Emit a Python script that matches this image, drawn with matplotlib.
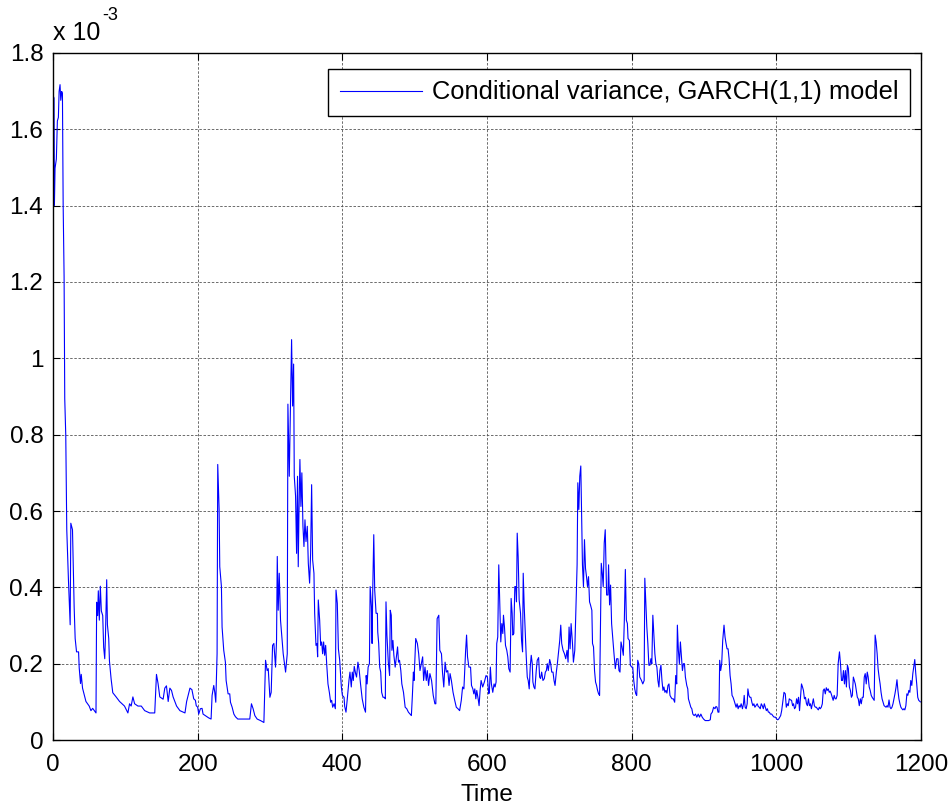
import numpy as np
import matplotlib
matplotlib.use("Agg")
import matplotlib.pyplot as plt

plt.rcParams['font.family'] = ['Liberation Sans', 'DejaVu Sans']
plt.rcParams['mathtext.default'] = 'regular'

# conditional variance (units of 1e-3), split by time span
t_a = [0, 1.4, 1.9, 2.8, 4.6, 6, 7.4, 8.4, 9.7, 10.7, 12, 13, 14, 15.3, 16.2, 17.6, 19, 21.3, 23.7,
       24.6, 26.9, 29.2, 30.6, 32.5, 35.3, 36.2, 38, 39, 40.8, 45.5, 50, 52.4, 54.8, 59.4, 60.3,
       61.7, 62.6, 64, 65.4, 66.8, 68.7, 70, 71.5, 72.4, 74.2, 75.2, 77, 78, 80.3, 82.6, 87.2, 92,
       98.8, 103.5, 105.8, 108, 110.4, 112.8, 117.4, 122, 126.7, 133.6, 140.6, 143, 145.2, 147.6,
       152.2, 154.5, 156.8, 159.2, 161.5, 163.8, 166, 170.8, 175.4, 182.4, 184.7, 189.3]
v_a = [1.688, 1.682, 1.401, 1.498, 1.522, 1.622, 1.631, 1.699, 1.717, 1.676, 1.699, 1.694, 1.403,
       1.214, 0.894, 0.799, 0.551, 0.420, 0.302, 0.568, 0.551, 0.349, 0.266, 0.231, 0.231, 0.189,
       0.148, 0.172, 0.136, 0.101, 0.089, 0.077, 0.083, 0.071, 0.361, 0.326, 0.391, 0.314, 0.403,
       0.338, 0.326, 0.243, 0.213, 0.266, 0.420, 0.302, 0.266, 0.207, 0.160, 0.124, 0.113, 0.101,
       0.089, 0.071, 0.095, 0.089, 0.113, 0.095, 0.089, 0.089, 0.077, 0.071, 0.071, 0.172, 0.148,
       0.113, 0.107, 0.136, 0.142, 0.101, 0.136, 0.130, 0.113, 0.089, 0.077, 0.071, 0.101, 0.136]

t_b = [192, 194.5, 196.8, 198, 200, 201.4, 203.7, 206, 207.4, 210.6, 215.2, 218.5, 219.9, 222.2,
       223.6, 225, 226.8, 227.7, 229.6, 230.5, 232.8, 233.7, 236, 238.3, 239.3, 240.6, 242, 244.3,
       245.3, 247.6, 250, 252.2, 255.4, 259, 266, 272, 274.3, 276.6, 279, 282.2, 286.8, 291.5,
       293.8, 296, 297.5, 299.8, 301.6, 303.5, 305.3, 307.6, 309, 310, 311.3, 312.7, 314.5, 316.4,
       318.2, 320, 321.5, 323.8, 324.7, 326.6, 328.4, 329.8, 331.2, 332.6, 333.5, 335.3, 336.7,
       338, 339, 340, 341.3, 342.7, 344, 345.5, 346.9, 348.3, 349.7, 351.5, 352.9, 354.7, 356.1,
       357.5, 358.9, 360.7, 361.7, 363.5, 364.9, 365.8, 366.7, 368.6, 370, 371.4, 372.7, 374.1,
       375.5, 376.9, 378.3, 380.1, 382, 383.8, 385.2, 386.6, 388.5, 390.3, 391.2, 393, 394.5,
       396.3, 398.6]
v_b = [0.132, 0.108, 0.104, 0.090, 0.086, 0.068, 0.082, 0.083, 0.068, 0.064, 0.058, 0.055, 0.117,
       0.143, 0.125, 0.099, 0.226, 0.722, 0.604, 0.454, 0.402, 0.296, 0.235, 0.204, 0.156, 0.139,
       0.121, 0.121, 0.099, 0.086, 0.068, 0.061, 0.055, 0.055, 0.055, 0.055, 0.095, 0.082, 0.064,
       0.055, 0.051, 0.046, 0.209, 0.182, 0.187, 0.112, 0.125, 0.248, 0.253, 0.191, 0.261, 0.481,
       0.340, 0.437, 0.314, 0.270, 0.226, 0.200, 0.178, 0.226, 0.880, 0.691, 0.902, 1.049, 0.875,
       0.985, 0.691, 0.639, 0.489, 0.691, 0.454, 0.595, 0.735, 0.612, 0.700, 0.560, 0.507, 0.577,
       0.520, 0.560, 0.463, 0.411, 0.489, 0.669, 0.472, 0.437, 0.332, 0.248, 0.253, 0.218, 0.367,
       0.314, 0.248, 0.257, 0.226, 0.257, 0.222, 0.248, 0.200, 0.147, 0.125, 0.099, 0.104, 0.086,
       0.095, 0.082, 0.393, 0.358, 0.239, 0.209, 0.139]

t_c = [400, 402.3, 403.2, 405, 406.8, 409.1, 410.5, 412.3, 413.7, 415.1, 416.4, 418.3, 419.6,
       421.5, 423.3, 425.1, 427.4, 429.7, 432, 432.9, 434.2, 435.6, 437.4, 438.4, 440.2, 441.1,
       442, 443.4, 444.7, 446.6, 448.4, 448.9, 450.2, 451.6, 453, 454.3, 456.2, 458, 459.4, 460.3,
       461.6, 463.5, 465.3, 466.2, 467.6, 468.5, 469.9, 471.2, 473, 474.4, 476.3, 477.6, 479,
       480.8, 482.2, 484.5, 486.8, 489, 491.3, 493.6, 495.4, 496.8, 498.2, 499.1, 501.4, 503.7,
       505.5, 507.3, 509.6, 511, 512.3, 514.2, 516, 517.4, 519.2, 521, 523.3, 525.6, 527.9, 529.2,
       531, 533.3, 534.7, 537, 538.4, 540.2, 542, 543.8, 545.7, 547.5, 548.9, 550.7, 553, 555.3,
       557.5, 559.8, 562.1, 564.4, 566.2, 568, 570.3, 571.7, 573, 574.9, 577.2, 578.5, 580.4,
       581.7, 583.1, 584.5, 585.8, 587.7, 589, 590.4, 591.8, 594, 596.3, 598.6, 600.5, 602.3]
v_c = [0.117, 0.112, 0.088, 0.073, 0.108, 0.156, 0.178, 0.139, 0.178, 0.156, 0.193, 0.174, 0.165,
       0.204, 0.182, 0.147, 0.108, 0.086, 0.073, 0.169, 0.147, 0.191, 0.200, 0.402, 0.349, 0.253,
       0.393, 0.538, 0.393, 0.332, 0.332, 0.283, 0.253, 0.191, 0.178, 0.125, 0.112, 0.112, 0.108,
       0.362, 0.275, 0.204, 0.169, 0.340, 0.327, 0.235, 0.261, 0.222, 0.191, 0.213, 0.244, 0.204,
       0.209, 0.182, 0.147, 0.125, 0.086, 0.082, 0.073, 0.068, 0.064, 0.117, 0.178, 0.156, 0.266,
       0.253, 0.226, 0.182, 0.204, 0.218, 0.156, 0.191, 0.156, 0.182, 0.143, 0.174, 0.156, 0.117,
       0.095, 0.095, 0.318, 0.327, 0.235, 0.226, 0.178, 0.139, 0.204, 0.178, 0.182, 0.143, 0.174,
       0.156, 0.125, 0.104, 0.086, 0.082, 0.077, 0.104, 0.139, 0.134, 0.231, 0.275, 0.218, 0.191,
       0.191, 0.143, 0.134, 0.121, 0.134, 0.108, 0.130, 0.108, 0.090, 0.130, 0.156, 0.139, 0.152,
       0.169, 0.165, 0.121]

t_d = [603.2, 604.6, 606, 607.9, 609.7, 611.1, 612.5, 613.4, 614.8, 616.2, 617.6, 619, 620.4,
       621.8, 622.7, 624.1, 625.5, 627.3, 628.7, 630.1, 631.9, 633.3, 634.7, 635.6, 637, 638.4,
       639.8, 640.7, 641.7, 643, 644.4, 646.3, 647.7, 649.1, 650, 651.4, 652.8, 654.2, 655.6,
       656.9, 658.3, 659.7, 661.1, 662.5, 663.4, 664.8, 666.2, 668, 669.4, 671.3, 672.7, 674,
       675.5, 677.3, 679.2, 680.6, 682, 683.3, 684.7, 686.6, 688, 689.4, 691.2, 692.6, 694, 695.8,
       697.2, 698.6, 700.5, 701.9, 703.2, 705.1, 707, 708.8, 710.6, 712, 713.4, 714.8, 716.2,
       718.1, 719.4, 721.3, 723.1, 724.5, 725.5, 726.9, 728.2, 729.6, 731, 731.9, 733.3, 734.7,
       736.1, 737.5, 738.9, 740.3, 741.7, 743, 744.9, 745.8, 747.2, 748.6, 750, 751.4, 752.8,
       754.2, 755.6, 756.5, 757.9, 759.3, 760.6, 762, 763.4, 765.3, 767.1, 768, 769.4, 770.8,
       772.2, 773.6, 775.5, 777.3, 779.2, 781, 782.4, 783.8, 785.2, 786.6, 788.4, 789.8, 791.2,
       792.6, 794, 794.9, 796.8, 798.1, 800, 801.4, 802.8, 804.2, 805.6, 806.9, 808.3, 809.7]
v_d = [0.125, 0.191, 0.147, 0.125, 0.147, 0.139, 0.152, 0.253, 0.270, 0.459, 0.358, 0.257, 0.305,
       0.279, 0.327, 0.296, 0.248, 0.235, 0.218, 0.187, 0.178, 0.371, 0.332, 0.275, 0.279, 0.402,
       0.402, 0.362, 0.542, 0.481, 0.367, 0.332, 0.261, 0.231, 0.437, 0.349, 0.283, 0.218, 0.165,
       0.156, 0.134, 0.191, 0.222, 0.200, 0.152, 0.139, 0.134, 0.182, 0.209, 0.216, 0.165, 0.161,
       0.178, 0.156, 0.161, 0.178, 0.182, 0.200, 0.182, 0.211, 0.200, 0.178, 0.178, 0.156, 0.143,
       0.178, 0.200, 0.226, 0.261, 0.301, 0.253, 0.235, 0.226, 0.213, 0.235, 0.204, 0.296, 0.239,
       0.305, 0.253, 0.204, 0.235, 0.358, 0.459, 0.674, 0.604, 0.691, 0.718, 0.564, 0.459, 0.402,
       0.525, 0.450, 0.428, 0.402, 0.428, 0.362, 0.354, 0.340, 0.253, 0.244, 0.182, 0.152, 0.143,
       0.130, 0.121, 0.117, 0.253, 0.463, 0.437, 0.402, 0.516, 0.551, 0.380, 0.380, 0.459, 0.354,
       0.406, 0.305, 0.270, 0.226, 0.187, 0.213, 0.213, 0.182, 0.178, 0.257, 0.244, 0.222, 0.314,
       0.447, 0.314, 0.305, 0.266, 0.261, 0.196, 0.191, 0.191, 0.156, 0.134, 0.121, 0.117, 0.209,
       0.200]

t_e = [811.1, 813.5, 815.3, 817.2, 818.1, 819.5, 820.9, 822.3, 823.7, 825.1, 826.5, 827.8, 829.2,
       830.6, 832, 833.4, 834.8, 836.2, 837.6, 839, 840.4, 841.8, 843.2, 844.5, 845.9, 847.3,
       848.7, 850.1, 851.5, 852.9, 854.3, 855.7, 857.5, 859.4, 860.8, 862.2, 863.1, 864.5, 865.9,
       867.3, 868.7, 870.1, 871.5, 872.9, 874.2, 876.1, 877.5, 878.4, 879.8, 881.7, 883.1, 884.5,
       886.3, 888.2, 890, 891.9, 893.7, 895.6, 897.4, 899.3, 901.6, 903.9, 906.3, 908.6, 909.5,
       911.4, 913.2, 915.1, 916.5, 917.9, 919.3, 920.6, 921.6, 923, 924.4, 925.8, 927.6, 929,
       930.4, 931.8, 933.2, 934.6, 936, 937.4, 938.7, 940.1, 941.5, 942.9, 944.3, 945.7, 947.1,
       948.5, 949.9, 951.3, 953.1, 954.5, 955.5, 956.8, 958.2, 959.6, 960.6, 962, 963.3, 964.7,
       966.1, 967.5, 968.9, 970.3, 971.7, 973.5, 974.9, 976.3, 977.7, 979.1, 980.5, 981.9, 983.3,
       984.7, 986.1, 987.5, 988.9, 990.3, 991.6, 993.5, 994.9, 996.8, 998.6, 1000.5, 1001.9,
       1003.2]
v_e = [0.165, 0.156, 0.147, 0.156, 0.424, 0.358, 0.296, 0.253, 0.196, 0.196, 0.213, 0.200, 0.327,
       0.275, 0.226, 0.200, 0.191, 0.156, 0.139, 0.182, 0.196, 0.156, 0.130, 0.139, 0.125, 0.130,
       0.123, 0.143, 0.147, 0.117, 0.112, 0.108, 0.108, 0.099, 0.169, 0.147, 0.301, 0.235, 0.200,
       0.257, 0.218, 0.182, 0.200, 0.200, 0.165, 0.143, 0.134, 0.108, 0.099, 0.086, 0.082, 0.068,
       0.064, 0.068, 0.060, 0.068, 0.060, 0.068, 0.060, 0.055, 0.051, 0.051, 0.051, 0.053, 0.068,
       0.073, 0.086, 0.082, 0.088, 0.086, 0.073, 0.073, 0.209, 0.182, 0.200, 0.261, 0.301, 0.270,
       0.253, 0.239, 0.239, 0.213, 0.169, 0.147, 0.117, 0.112, 0.104, 0.095, 0.086, 0.095, 0.082,
       0.090, 0.086, 0.095, 0.082, 0.095, 0.117, 0.086, 0.082, 0.095, 0.134, 0.117, 0.112, 0.112,
       0.099, 0.090, 0.095, 0.086, 0.090, 0.095, 0.088, 0.086, 0.082, 0.095, 0.090, 0.082, 0.095,
       0.086, 0.077, 0.082, 0.073, 0.073, 0.068, 0.068, 0.064, 0.060, 0.060, 0.055, 0.053, 0.055]

t_f = [1005.9, 1007.3, 1008.7, 1010.5, 1012.3, 1013.7, 1015.1, 1016.4, 1017.8, 1019.6, 1021,
       1022.4, 1023.7, 1025.1, 1026.5, 1027.9, 1029.2, 1030.6, 1032, 1033.3, 1034.7, 1036.1,
       1037.4, 1038.8, 1040.2, 1041.6, 1042.9, 1044.3, 1045.7, 1047, 1048.4, 1049.8, 1051.1,
       1052.5, 1053.9, 1055.3, 1056.6, 1058, 1059.4, 1060.7, 1062.1, 1063.5, 1064.8, 1066.2,
       1067.6, 1069, 1070.3, 1071.7, 1073.1, 1074.4, 1075.8, 1077.2, 1078.5, 1079.9, 1081.3,
       1082.6, 1084, 1085.4, 1087.2, 1088.6, 1090, 1091.3, 1092.7, 1094.1, 1095.4, 1096.8, 1098.2,
       1099.5, 1100.9, 1102.3, 1103.7, 1105, 1106.4, 1107.8, 1109.1, 1110.5, 1111.9, 1113.2,
       1114.6, 1116, 1117.4, 1118.7, 1120.1, 1121.5, 1122.8, 1124.2, 1125.6, 1126.9, 1128.3,
       1129.7, 1131.1, 1132.4, 1133.8, 1135.2, 1136.5, 1137.9, 1139.3, 1140.6, 1142, 1143.4,
       1144.7, 1146.1, 1147.5, 1148.9, 1150.2, 1151.6, 1153, 1154.3, 1155.7, 1157.1, 1158.4,
       1159.8, 1161.2, 1162.6, 1163.9, 1165.3, 1166.7, 1168, 1169.4, 1170.8, 1172.1, 1173.5,
       1174.9, 1176.3, 1177.6, 1179, 1180.4, 1181.7, 1183.1, 1184.5, 1185.8, 1187.2, 1188.6,
       1189.9, 1191.3, 1192.7, 1194, 1195.4, 1196.8, 1199]
v_f = [0.064, 0.077, 0.099, 0.125, 0.121, 0.086, 0.095, 0.090, 0.108, 0.105, 0.104, 0.090, 0.095,
       0.082, 0.086, 0.108, 0.095, 0.112, 0.077, 0.112, 0.147, 0.139, 0.130, 0.108, 0.112, 0.095,
       0.090, 0.108, 0.090, 0.095, 0.082, 0.095, 0.108, 0.090, 0.086, 0.086, 0.082, 0.079, 0.086,
       0.082, 0.086, 0.095, 0.130, 0.134, 0.121, 0.137, 0.130, 0.134, 0.125, 0.128, 0.121, 0.112,
       0.104, 0.117, 0.108, 0.108, 0.117, 0.200, 0.231, 0.200, 0.156, 0.156, 0.182, 0.147, 0.182,
       0.139, 0.196, 0.187, 0.139, 0.130, 0.112, 0.117, 0.165, 0.156, 0.147, 0.130, 0.112, 0.108,
       0.090, 0.108, 0.095, 0.112, 0.112, 0.165, 0.174, 0.147, 0.178, 0.165, 0.139, 0.130, 0.117,
       0.112, 0.108, 0.104, 0.275, 0.257, 0.226, 0.187, 0.165, 0.147, 0.125, 0.108, 0.099, 0.090,
       0.088, 0.086, 0.090, 0.086, 0.105, 0.086, 0.082, 0.086, 0.095, 0.108, 0.121, 0.137, 0.158,
       0.130, 0.108, 0.095, 0.086, 0.082, 0.079, 0.082, 0.079, 0.090, 0.121, 0.117, 0.130, 0.125,
       0.156, 0.143, 0.174, 0.191, 0.211, 0.174, 0.147, 0.112, 0.104, 0.100]

time = np.concatenate([t_a, t_b, t_c, t_d, t_e, t_f])
cond_var = np.concatenate([v_a, v_b, v_c, v_d, v_e, v_f])

fig = plt.figure(figsize=(9.52, 8.05), dpi=100)
ax = fig.add_axes([0.0557, 0.0807, 0.9118, 0.8535])

ax.plot(time, cond_var, color=(0, 0, 1), lw=0.8, label="Conditional variance, GARCH(1,1) model")

ax.set_xlim(0, 1200)
ax.set_ylim(0, 1.8)
ax.set_xticks(np.arange(0, 1201, 200))
ax.set_yticks(np.arange(0, 1.81, 0.2))
ax.set_yticklabels(['0', '0.2', '0.4', '0.6', '0.8', '1', '1.2', '1.4', '1.6', '1.8'])
ax.tick_params(direction='in', top=True, right=True, length=5, width=0.8, labelsize=17.5)
ax.tick_params(axis='x', pad=10)
ax.tick_params(axis='y', pad=7)
ax.grid(True, color='#555555', linestyle=(0, (3, 2)), linewidth=0.6)
for s in ax.spines.values():
    s.set_linewidth(1.0)

ax.set_xlabel("Time", fontsize=17.5, labelpad=6)
ax.text(0.0, 1.012, "x 10", transform=ax.transAxes, fontsize=18, ha='left', va='bottom')
ax.text(0.057, 1.042, "-3", transform=ax.transAxes, fontsize=13, ha='left', va='bottom')

leg = ax.legend(loc='upper right', bbox_to_anchor=(0.9873, 0.9767), borderaxespad=0,
                fontsize=18.4, fancybox=False, framealpha=1, edgecolor='black',
                handlelength=3.2, handletextpad=0.4, borderpad=0.45)
leg.get_frame().set_linewidth(1.0)

fig.savefig("out.png", dpi=100)
